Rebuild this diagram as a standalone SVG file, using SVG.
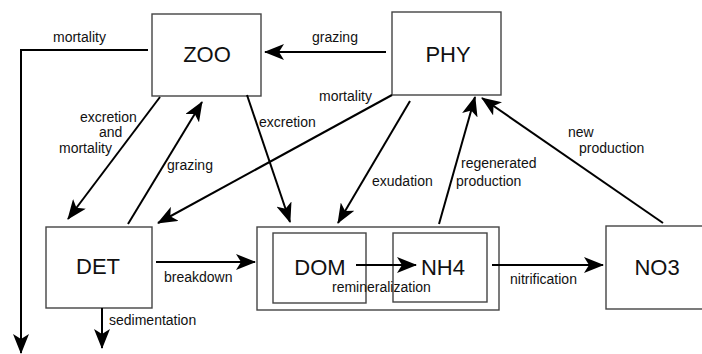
<svg xmlns="http://www.w3.org/2000/svg" width="702" height="354" viewBox="0 0 702 354">
<defs>
<marker id="ah" markerUnits="userSpaceOnUse" viewBox="0 0 20 16" markerWidth="20" markerHeight="16" refX="19" refY="8" orient="auto">
<path d="M0,0 L20,8 L0,16 L5,8 z" fill="#000"/>
</marker>
<style>
.box{fill:#fff;stroke:#444;stroke-width:1.4}
.nt{font-family:"Liberation Sans",Arial,sans-serif;font-size:22px;fill:#111;text-anchor:middle}
.lb{font-family:"Liberation Sans",Arial,sans-serif;font-size:14px;fill:#111}
.cn{fill:none;stroke:#000;stroke-width:2;marker-end:url(#ah)}
</style>
</defs>
<rect width="702" height="354" fill="#fff"/>
<g id="ZOO"><rect class="box" x="152" y="14" width="109" height="82"/><text class="nt" x="207" y="62">ZOO</text></g>
<g id="PHY"><rect class="box" x="392" y="12" width="109" height="83"/><text class="nt" x="448" y="62">PHY</text></g>
<g id="DET"><rect class="box" x="46" y="227" width="106" height="81"/><text class="nt" x="98" y="274">DET</text></g>
<g id="DOMNH4"><rect class="box" x="257" y="227" width="242" height="83"/></g>
<g id="DOM"><rect class="box" x="273" y="233" width="93" height="70"/><text class="nt" x="320" y="275">DOM</text></g>
<g id="NH4"><rect class="box" x="393" y="233" width="94" height="69"/><text class="nt" x="443" y="275">NH4</text></g>
<g id="NO3"><rect class="box" x="606" y="226" width="100" height="83"/><text class="nt" x="657" y="275">NO3</text></g>
<g id="connectors">
<polyline class="cn" points="148,50 21,50 21,353"/>
<line class="cn" x1="386" y1="52" x2="265" y2="52"/>
<line class="cn" x1="160" y1="97" x2="68" y2="219"/>
<line class="cn" x1="128" y1="224" x2="202" y2="102"/>
<line class="cn" x1="247" y1="95" x2="290" y2="222"/>
<line class="cn" x1="392" y1="95" x2="158" y2="223"/>
<line class="cn" x1="410" y1="101" x2="338" y2="223"/>
<line class="cn" x1="439" y1="224" x2="475" y2="97"/>
<line class="cn" x1="663" y1="223" x2="482" y2="98"/>
<line class="cn" x1="156" y1="262" x2="255" y2="262"/>
<line class="cn" x1="102" y1="308" x2="102" y2="348"/>
<line class="cn" x1="356" y1="265" x2="416" y2="265"/>
<line class="cn" x1="492" y1="265" x2="603" y2="265"/>
</g>
<g id="labels">
<text class="lb" x="53" y="42">mortality</text>
<text class="lb" x="312" y="42">grazing</text>
<text class="lb" x="80" y="122">excretion</text>
<text class="lb" x="99" y="137">and</text>
<text class="lb" x="59" y="153">mortality</text>
<text class="lb" x="167" y="170">grazing</text>
<text class="lb" x="259" y="127">excretion</text>
<text class="lb" x="319" y="101">mortality</text>
<text class="lb" x="372" y="186">exudation</text>
<text class="lb" x="461" y="168">regenerated</text>
<text class="lb" x="456" y="186">production</text>
<text class="lb" x="568" y="137">new</text>
<text class="lb" x="579" y="153">production</text>
<text class="lb" x="164" y="282">breakdown</text>
<text class="lb" x="109" y="325">sedimentation</text>
<text class="lb" x="332" y="292">remineralization</text>
<text class="lb" x="510" y="284">nitrification</text>
</g>
</svg>
